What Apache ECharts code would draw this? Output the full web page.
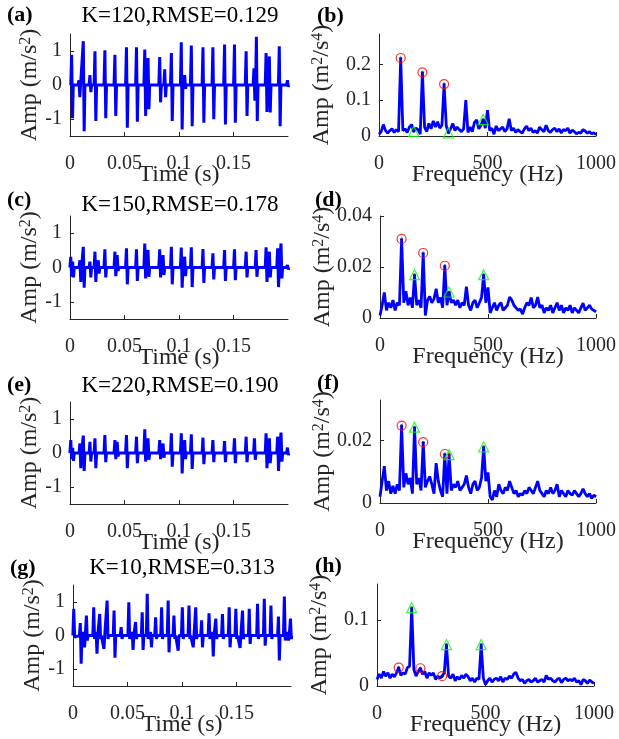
<!DOCTYPE html>
<html><head><meta charset="utf-8">
<script src="https://cdn.jsdelivr.net/npm/echarts@6/dist/echarts.min.js"></script>
<style>html,body{margin:0;padding:0;background:#fff}#c{width:619px;height:739px}</style>
</head><body><div id="c"></div>
<script>
// ---------- tick labels ----------
const timeTicks = [0, 0.05, 0.1, 0.15];
const ampTicks = [-1, 0, 1];
const freqTicks = [0, 500, 1000];
const bTicks = [0, 0.1, 0.2];
const dTicks = [0, 0.02, 0.04];
const fTicks = [0, 0.02];
const hTicks = [0, 0.1];

// ---------- titles ----------
const panelLabels = ['(a)', '(b)', '(c)', '(d)', '(e)', '(f)', '(g)', '(h)'];
const titles = ['K=120,RMSE=0.129', 'K=150,RMSE=0.178', 'K=220,RMSE=0.190', 'K=10,RMSE=0.313'];

// ---------- time signals: impulse time (s), positive peak, negative peak ----------
const aT  = [0.0015,0.0082,0.0122,0.0183,0.0229,0.0320,0.0412,0.0518,0.0610,0.0686,0.0716,0.0823,0.0869,0.0930,0.1021,0.1052,0.1113,0.1220,0.1311,0.1418,0.1509,0.1616,0.1688,0.1710,0.1799,0.1829,0.1920,0.1995];
const aHi = [0.89,0.14,1.29,0.29,0.99,1.02,0.89,1.11,1.11,1.04,0.79,0.82,0.46,0.94,1.26,0.29,1.16,1.11,1.11,1.19,1.19,0.99,0.49,1.42,0.94,0.84,1.14,0.14];
const aLo = [-0.98,-0.36,-1.36,-0.21,-1.06,-0.98,-0.91,-1.26,-1.08,-0.91,-0.71,-0.51,-0.36,-1.06,-1.31,-0.11,-1.21,-1.11,-1.01,-1.16,-1.11,-0.91,-0.46,-1.06,-0.79,-0.81,-1.21,-0.05];

const cT  = [0.0007,0.0024,0.0091,0.0122,0.0183,0.0229,0.0259,0.0320,0.0412,0.0433,0.0518,0.0610,0.0686,0.0716,0.0823,0.0854,0.0930,0.1021,0.1052,0.1113,0.1220,0.1311,0.1418,0.1509,0.1616,0.1707,0.1799,0.1829,0.1905,0.1936,0.1995];
const cHi = [0.31,0.17,0.21,0.60,0.17,0.46,0.21,0.53,0.46,0.36,0.56,0.53,0.70,0.51,0.53,0.36,0.60,0.58,0.31,0.59,0.54,0.41,0.51,0.53,0.46,0.51,0.59,0.46,0.56,0.70,0.07];
const cLo = [-0.27,-0.29,-0.42,-0.59,-0.29,-0.42,-0.18,-0.29,-0.25,-0.10,-0.49,-0.39,-0.32,-0.27,-0.29,-0.22,-0.49,-0.59,-0.25,-0.57,-0.45,-0.35,-0.39,-0.37,-0.29,-0.27,-0.42,-0.29,-0.57,-0.32,-0.06];

const eT  = [0.0007,0.0024,0.0091,0.0122,0.0183,0.0229,0.0320,0.0412,0.0433,0.0518,0.0610,0.0686,0.0716,0.0823,0.0854,0.0930,0.1021,0.1052,0.1113,0.1220,0.1311,0.1418,0.1509,0.1616,0.1692,0.1799,0.1829,0.1905,0.1936,0.1995];
const eHi = [0.38,0.15,0.28,0.51,0.33,0.43,0.53,0.38,0.33,0.53,0.48,0.70,0.43,0.38,0.28,0.58,0.58,0.38,0.55,0.45,0.38,0.35,0.43,0.48,0.43,0.58,0.43,0.48,0.60,0.16];
const eLo = [-0.18,-0.23,-0.45,-0.53,-0.25,-0.45,-0.27,-0.18,-0.10,-0.45,-0.30,-0.25,-0.20,-0.18,-0.14,-0.40,-0.60,-0.18,-0.47,-0.33,-0.27,-0.27,-0.30,-0.27,-0.20,-0.45,-0.30,-0.53,-0.25,-0.06];

const gT  = [0.0007,0.0067,0.0098,0.0123,0.0190,0.0212,0.0245,0.0276,0.0313,0.0377,0.0442,0.0512,0.0543,0.0574,0.0635,0.0681,0.0712,0.0758,0.0813,0.0873,0.0926,0.0957,0.1003,0.1064,0.1095,0.1126,0.1180,0.1248,0.1279,0.1310,0.1371,0.1433,0.1494,0.1525,0.1555,0.1617,0.1693,0.1755,0.1816,0.1885,0.1939,0.1969,0.1995];
const gHi = [0.79,0.37,0.10,0.59,0.84,0.10,0.64,0.05,1.04,0.74,0.25,0.99,0.10,0.40,0.69,1.24,0.10,0.54,0.84,1.04,0.59,0.05,0.84,0.89,0.05,0.84,0.45,0.66,0.10,0.50,0.64,0.84,0.79,0.05,0.74,0.79,0.94,1.09,0.89,0.56,1.16,0.10,0.50];
const gLo = [-0.05,-0.84,-0.35,-0.15,-0.10,-0.54,-0.10,-0.40,-0.10,-0.66,-0.10,-0.10,-0.43,-0.10,-0.43,-0.10,-0.35,-0.10,-0.10,-0.50,-0.10,-0.45,-0.10,-0.10,-0.35,-0.10,-0.35,-0.10,-0.62,-0.10,-0.10,-0.35,-0.10,-0.37,-0.10,-0.25,-0.10,-0.30,-0.10,-0.74,-0.15,-0.15,-0.10];

// ---------- spectra: amplitude every 10 Hz from 0 to 1000 Hz ----------
const freqStep = 10;
const bAmp = [0.005,0.012,0.032,0.015,0.008,0.015,0.02,0.01,0.018,0.012,
  0.218,0.015,0.02,0.01,0.025,0.032,0.013,0.022,0.018,0.005,
  0.178,0.025,0.012,0.035,0.02,0.042,0.025,0.04,0.022,0.03,
  0.145,0.028,0.009,0.02,0.035,0.015,0.025,0.018,0.012,0.02,
  0.1,0.01,0.025,0.012,0.038,0.045,0.02,0.03,0.046,0.022,
  0.072,0.015,0.022,0.005,0.028,0.015,0.02,0.025,0.012,0.02,
  0.048,0.015,0.022,0.01,0.018,0.012,0.008,0.02,0.028,0.015,
  0.022,0.01,0.015,0.008,0.025,0.018,0.012,0.03,0.015,0.01,
  0.018,0.022,0.012,0.02,0.008,0.018,0.015,0.022,0.008,0.016,
  0.012,0.006,0.01,0.008,0.018,0.014,0.008,0.012,0.006,0.009,
  0.004];
const dAmp = [0.001,0.005,0.01,0.003,0.006,0.004,0.007,0.003,0.006,0.005,
  0.031,0.006,0.0105,0.005,0.008,0.004,0.017,0.005,0.007,0.004,
  0.0255,0.001,0.007,0.0085,0.006,0.0075,0.0115,0.006,0.008,0.004,
  0.0205,0.005,0.0102,0.006,0.007,0.005,0.007,0.004,0.006,0.005,
  0.0123,0.005,0.003,0.006,0.007,0.004,0.006,0.008,0.017,0.006,
  0.012,0.002,0.004,0.006,0.003,0.005,0.006,0.003,0.004,0.005,
  0.0082,0.007,0.005,0.004,0.003,0.0035,0.0015,0.004,0.006,0.005,
  0.008,0.004,0.005,0.0082,0.004,0.005,0.002,0.004,0.003,0.005,
  0.002,0.004,0.006,0.003,0.005,0.002,0.004,0.003,0.005,0.002,
  0.004,0.003,0.002,0.004,0.0058,0.003,0.004,0.005,0.0035,0.003,
  0.0024];
const fAmp = [0.002,0.007,0.0118,0.004,0.007,0.003,0.0055,0.003,0.006,0.004,
  0.0248,0.005,0.0095,0.006,0.008,0.003,0.0243,0.006,0.008,0.004,
  0.0195,0.005,0.007,0.0085,0.006,0.003,0.0128,0.007,0.004,0.002,
  0.0157,0.003,0.0155,0.004,0.006,0.005,0.007,0.004,0.005,0.006,
  0.0088,0.005,0.003,0.006,0.007,0.004,0.005,0.008,0.018,0.007,
  0.0098,0.002,0.001,0.004,0.002,0.006,0.004,0.003,0.005,0.004,
  0.007,0.005,0.003,0.004,0.002,0.003,0.0025,0.004,0.003,0.005,
  0.004,0.003,0.005,0.007,0.004,0.003,0.002,0.004,0.003,0.005,
  0.003,0.004,0.006,0.002,0.004,0.003,0.002,0.004,0.003,0.0025,
  0.004,0.003,0.002,0.003,0.0045,0.003,0.002,0.003,0.0015,0.0025,
  0.002];
const hAmp = [0.01,0.018,0.012,0.022,0.015,0.02,0.012,0.018,0.014,0.02,
  0.028,0.016,0.02,0.018,0.028,0.03,0.119,0.025,0.015,0.022,
  0.027,0.018,0.022,0.012,0.02,0.016,0.02,0.01,0.015,0.012,
  0.015,0.02,0.063,0.015,0.012,0.018,0.008,0.014,0.01,0.016,
  0.012,0.018,0.014,0.008,0.012,0.006,0.012,0.01,0.063,0.012,
  0.002,0.008,0.012,0.006,0.01,0.012,0.008,0.014,0.006,0.012,
  0.01,0.015,0.012,0.018,0.021,0.012,0.008,0.01,0.004,0.008,
  0.01,0.006,0.008,0.012,0.006,0.008,0.01,0.006,0.016,0.01,
  0.012,0.008,0.006,0.01,0.012,0.005,0.01,0.012,0.008,0.01,
  0.008,0.012,0.006,0.008,0.002,0.01,0.008,0.004,0.009,0.006,
  0.004];

// marked frequencies
const circleFreqs = [100, 200, 300];
const triangleFreqs = [160, 320, 480];

// ---------- build ----------
const FONT = '"Liberation Serif", "Times New Roman", serif';
const AX = '#262626';

function impulseLine(T, H, L) {
  const d = [];
  for (let i = 0; i < T.length; i++) {
    d.push([T[i] - 0.0008, 0], [T[i], H[i]], [T[i] + 0.0008, L[i]], [T[i] + 0.0015, 0]);
  }
  return d;
}
function specLine(V) { return V.map((v, i) => [i * freqStep, v]); }
function marks(F, V) { return F.map(f => [f, V[Math.round(f / freqStep)]]); }

const grids = [
  {left: 70, top: 34, width: 218, height: 102},
  {left: 379, top: 34, width: 218, height: 102},
  {left: 70, top: 216, width: 218, height: 103},
  {left: 380, top: 216, width: 217, height: 102},
  {left: 70, top: 402, width: 218, height: 102},
  {left: 380, top: 400, width: 217, height: 103},
  {left: 73, top: 585, width: 218, height: 101},
  {left: 377, top: 584, width: 217, height: 102}
];

const fmt = v => String(+(+v).toFixed(4));
function axisBase(gi, min, max, ticks) {
  return {
    gridIndex: gi, type: 'value', min: min, max: max,
    nameMoveOverlap: false,
    axisLine: {show: true, onZero: false, lineStyle: {color: AX, width: 1}},
    axisTick: {show: true, inside: true, length: 4, customValues: ticks, lineStyle: {color: AX, width: 1}},
    axisLabel: {customValues: ticks, formatter: fmt, color: AX, fontFamily: FONT, fontSize: 20},
    splitLine: {show: false}
  };
}
const xAxes = [], yAxes = [];
const yRange = [[0, 0.285, bTicks], [0, 0.04, dTicks], [0, 0.033, fTicks], [0, 0.155, hTicks]];
for (let r = 0; r < 4; r++) {
  // left: time
  const xl = axisBase(2 * r, 0, 0.2, timeTicks);
  xl.axisLabel.margin = 18;
  xl.name = 'Time (s)'; xl.nameLocation = 'middle'; xl.nameGap = 27;
  xl.nameTextStyle = {fontFamily: FONT, fontSize: 24, color: AX};
  const yl = axisBase(2 * r, -1.5, 1.5, ampTicks);
  yl.axisLabel.margin = 8;
  yl.name = '{a|Amp (m/s}{s|2}{a|)}'; yl.nameLocation = 'middle'; yl.nameGap = 28;
  yl.nameTextStyle = {fontFamily: FONT, fontSize: 24, color: AX,
    rich: {a: {fontFamily: FONT, fontSize: 24, color: AX}, s: {fontFamily: FONT, fontSize: 16, color: AX, verticalAlign: 'top'}}};
  // right: frequency
  const xr = axisBase(2 * r + 1, 0, 1000, freqTicks);
  xr.axisLabel.margin = 18;
  xr.name = 'Frequency (Hz)'; xr.nameLocation = 'middle'; xr.nameGap = 27;
  xr.nameTextStyle = {fontFamily: FONT, fontSize: 24, color: AX};
  const yr = axisBase(2 * r + 1, yRange[r][0], yRange[r][1], yRange[r][2]);
  yr.axisLabel.margin = 8;
  yr.name = '{a|Amp (m}{s|2}{a|/s}{s|4}{a|)}'; yr.nameLocation = 'middle'; yr.nameGap = 45;
  yr.nameTextStyle = {fontFamily: FONT, fontSize: 24, color: AX,
    rich: {a: {fontFamily: FONT, fontSize: 24, color: AX}, s: {fontFamily: FONT, fontSize: 16, color: AX, verticalAlign: 'top'}}};
  xAxes.push(xl, xr); yAxes.push(yl, yr);
}

const timeData = [impulseLine(aT, aHi, aLo), impulseLine(cT, cHi, cLo), impulseLine(eT, eHi, eLo), impulseLine(gT, gHi, gLo)];
const specData = [bAmp, dAmp, fAmp, hAmp];
const series = [];
for (let r = 0; r < 4; r++) {
  series.push({type: 'line', xAxisIndex: 2 * r, yAxisIndex: 2 * r, data: timeData[r], showSymbol: false,
    lineStyle: {color: '#0000ff', width: 3}, z: 2});
  series.push({type: 'line', xAxisIndex: 2 * r + 1, yAxisIndex: 2 * r + 1, data: specLine(specData[r]), showSymbol: false,
    lineStyle: {color: '#0000ff', width: 2.8}, z: 2});
  series.push({type: 'scatter', xAxisIndex: 2 * r + 1, yAxisIndex: 2 * r + 1, data: marks(circleFreqs, specData[r]),
    symbol: 'circle', symbolSize: 9, itemStyle: {color: 'rgba(0,0,0,0)', borderColor: '#ff0000', borderWidth: 1.2}, z: 4});
  series.push({type: 'scatter', xAxisIndex: 2 * r + 1, yAxisIndex: 2 * r + 1, data: marks(triangleFreqs, specData[r]),
    symbol: 'triangle', symbolSize: 10, itemStyle: {color: 'rgba(0,0,0,0)', borderColor: '#00ff00', borderWidth: 1.2}, z: 4});
  series.push({type: 'scatter', xAxisIndex: 2 * r + 1, yAxisIndex: 2 * r + 1,
    data: marks(circleFreqs.concat(triangleFreqs), specData[r]),
    symbol: 'circle', symbolSize: 3, itemStyle: {color: '#0000a0'}, z: 3});
}

const labelPos = [[7, 15], [317, 16], [7, 200], [315, 200], [7, 385], [317, 383], [10, 568], [315, 566]];
const titlePos = [[180, 16], [180, 205], [180, 386], [182, 568]];
const graphic = [];
panelLabels.forEach((t, i) => graphic.push({type: 'text', x: labelPos[i][0], y: labelPos[i][1],
  style: {text: t, fill: '#000', font: 'bold 22px ' + FONT, textVerticalAlign: 'middle', verticalAlign: 'middle'}}));
titles.forEach((t, i) => graphic.push({type: 'text', x: titlePos[i][0], y: titlePos[i][1],
  style: {text: t, fill: '#000', font: '23px ' + FONT, textAlign: 'center', align: 'center', textVerticalAlign: 'middle', verticalAlign: 'middle'}}));

const chart = echarts.init(document.getElementById('c'), null, {renderer: 'canvas'});
chart.setOption({
  animation: false,
  backgroundColor: '#fff',
  grid: grids,
  xAxis: xAxes,
  yAxis: yAxes,
  series: series,
  graphic: graphic
});
</script></body></html>
